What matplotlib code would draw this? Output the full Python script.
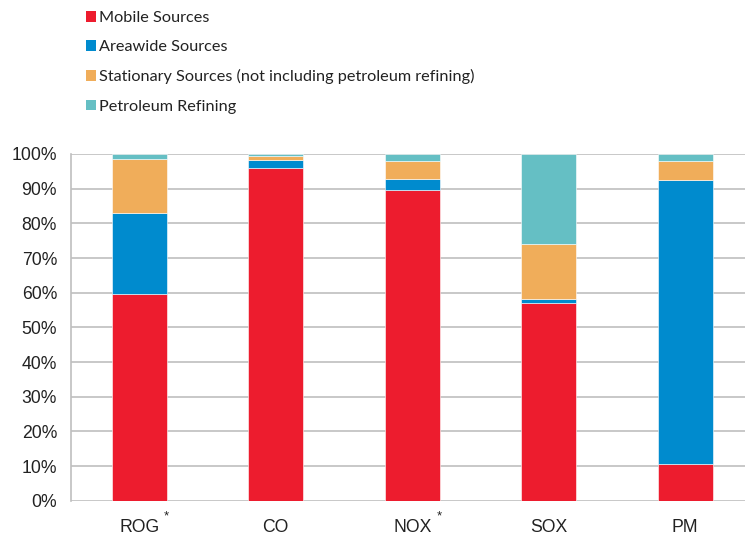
import numpy as np
import matplotlib
matplotlib.use("Agg")
import matplotlib.pyplot as plt
import matplotlib.ticker as mticker
from matplotlib.patches import Patch

# --- datos (porcentaje de emisiones por fuente) ---
pollutants = ["ROG", "CO", "NOX", "SOX", "PM"]
starred = [True, False, True, False, False]
mobile = [59.6, 96.0, 89.7, 57.0, 10.6]
areawide = [23.3, 2.3, 3.2, 1.2, 82.0]
stationary = [15.7, 1.2, 5.0, 15.8, 5.5]
refining = [1.4, 0.5, 2.1, 26.0, 1.9]

series_names = ["Mobile Sources", "Areawide Sources",
                "Stationary Sources (not including petroleum refining)",
                "Petroleum Refining"]
colors = ["#ED1C2E", "#008BCE", "#F0AD5A", "#65BFC4"]
GRID_CLR = "#BFBFBF"
TXT = "#222222"

W, H = 745, 538
fig = plt.figure(figsize=(W / 100, H / 100), dpi=100)
ax = fig.add_axes([71 / W, (H - 500.7) / H, (W - 71) / W, (500.7 - 154) / H])

x = np.arange(len(pollutants))
bottom = np.zeros(len(pollutants))
for vals, col in zip([mobile, areawide, stationary, refining], colors):
    ax.bar(x, vals, width=0.4, bottom=bottom, color=col,
           edgecolor="white", linewidth=0.4, zorder=3)
    bottom += np.array(vals)

ax.set_ylim(0, 100)
ax.set_xlim(-0.5, -0.5 + (W - 71) / 136.5)
ax.yaxis.set_major_locator(mticker.MultipleLocator(10))
ax.yaxis.set_major_formatter(mticker.FuncFormatter(lambda v, _: f"{v:.0f}%"))
ax.yaxis.grid(True, color=GRID_CLR, linewidth=1.2, zorder=0)
ax.set_axisbelow(True)
for s in ["top", "right", "bottom"]:
    ax.spines[s].set_visible(False)
ax.spines["left"].set_color(GRID_CLR)
ax.spines["left"].set_linewidth(1.2)

ax.set_xticks(x)
ax.set_xticklabels(pollutants, fontsize=12.7, family="Liberation Sans", color=TXT)
ax.tick_params(axis="x", length=0, pad=13.5)
ax.tick_params(axis="y", length=0, pad=10, labelsize=12.7, labelcolor=TXT)
for lab in ax.get_yticklabels():
    lab.set_family("Liberation Sans")

# asteriscos
for xi, st in zip(x, starred):
    if st:
        ax.text(xi + 0.195, -0.044, "*", transform=ax.get_xaxis_transform(),
                ha="center", va="center", fontsize=9.5, family="Liberation Sans",
                color=TXT)

handles = [Patch(facecolor=c, edgecolor="none") for c in colors]
fig.legend(handles, series_names, loc="upper left",
           bbox_to_anchor=(71 / W, 1 + 3.5 / H), frameon=False,
           prop={"family": "Lato", "size": 11.7}, handlelength=0.62,
           handleheight=0.62, handletextpad=0.22, labelspacing=0.93,
           labelcolor=TXT)

plt.savefig("out.png", dpi=100)
